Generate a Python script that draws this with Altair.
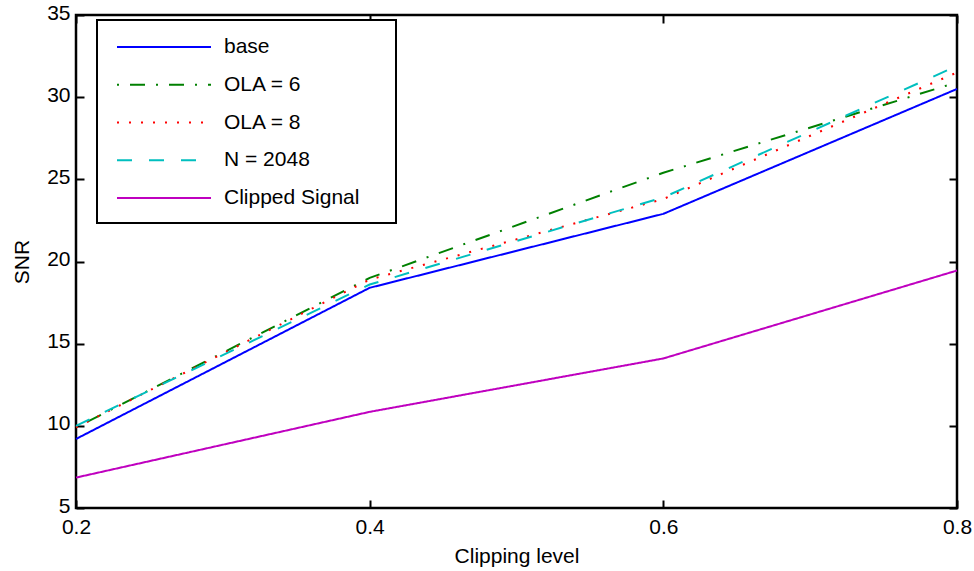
import altair as alt
import pandas as pd

# Clipping levels on the x axis and SNR (dB) per processing variant
clip_levels = [0.2, 0.4, 0.6, 0.8]
series_names = ["base", "OLA = 6", "OLA = 8", "N = 2048", "Clipped Signal"]
snr_base = [9.2, 18.4, 22.9, 30.5]
snr_ola6 = [9.9, 19.0, 25.4, 30.9]
snr_ola8 = [9.9, 18.9, 23.8, 31.5]
snr_n2048 = [10.0, 18.6, 23.9, 31.9]
snr_clipped = [6.85, 10.85, 14.1, 19.45]

line_colors = ["#0000ff", "#008000", "#ff0000", "#00bfbf", "#bf00bf"]
line_dashes = [[1, 0], [2, 11, 15, 11], [2, 10], [15, 17], [1, 0]]

x_ticks = [0.2, 0.4, 0.6, 0.8]
y_ticks = [5, 10, 15, 20, 25, 30, 35]

rows = []
for name, values in zip(series_names, [snr_base, snr_ola6, snr_ola8, snr_n2048, snr_clipped]):
    for lvl, v in zip(clip_levels, values):
        rows.append({"series": name, "clip": lvl, "snr": v})
df = pd.DataFrame(rows)

FONT = "Liberation Sans"
FS = 21
TICK = 8

x_scale = alt.Scale(domain=[0.2, 0.8], nice=False, zero=False)
y_scale = alt.Scale(domain=[5, 35], nice=False, zero=False)

legend_style = alt.Legend(title=None, orient="none", legendX=77, legendY=21)

lines = alt.Chart(df).mark_line(strokeWidth=2).encode(
    x=alt.X("clip:Q", scale=x_scale, title="Clipping level",
            axis=alt.Axis(orient="bottom", values=x_ticks, format=".1f",
                          offset=-TICK, tickSize=TICK, labelPadding=8,
                          labelFlush=False, titlePadding=8)),
    y=alt.Y("snr:Q", scale=y_scale, title="SNR",
            axis=alt.Axis(orient="left", values=y_ticks,
                          offset=-TICK, tickSize=TICK, labelPadding=6,
                          labelOffset=-2, labelFlush=False, titlePadding=14)),
    color=alt.Color("series:N",
                    scale=alt.Scale(domain=series_names, range=line_colors),
                    legend=legend_style),
    strokeDash=alt.StrokeDash("series:N",
                              scale=alt.Scale(domain=series_names, range=line_dashes),
                              legend=legend_style),
    order=alt.Order("clip:Q"),
)

# Mirrored tick marks on the top and right edges of the box
mirror = alt.Chart(df).mark_point(opacity=0).encode(
    x=alt.X("clip:Q", scale=x_scale, title=None,
            axis=alt.Axis(orient="top", values=x_ticks, labels=False,
                          offset=-TICK, tickSize=TICK)),
    y=alt.Y("snr:Q", scale=y_scale, title=None,
            axis=alt.Axis(orient="right", values=y_ticks, labels=False,
                          offset=-TICK, tickSize=TICK)),
)

# White framed panel behind the legend entries
legend_box = alt.Chart(pd.DataFrame({"k": [0]})).mark_rect(
    fill="white", stroke="black", strokeWidth=2
).encode(
    x=alt.value(21), x2=alt.value(320), y=alt.value(5), y2=alt.value(208)
)

chart = alt.layer(lines, legend_box, mirror).resolve_axis(
    x="independent", y="independent"
).properties(
    width=881,
    height=493,
    autosize=alt.AutoSizeParams(type="none"),
    padding={"left": 76, "top": 15, "right": 17, "bottom": 63},
    background="white",
).configure_view(
    stroke="black", strokeWidth=2.5
).configure_axis(
    domain=False, grid=False,
    tickColor="black", tickWidth=2,
    labelFont=FONT, labelFontSize=FS, labelColor="black",
    titleFont=FONT, titleFontSize=FS, titleColor="black",
    titleFontWeight="normal",
).configure_legend(
    strokeColor="transparent", fillColor="transparent",
    padding=0, symbolType="M-4.7,0H4.7", symbolSize=400, symbolStrokeWidth=2,
    symbolFillColor="transparent",
    labelFont=FONT, labelFontSize=FS, labelColor="black", labelOffset=49,
    rowPadding=16.75,
)

chart.save("out.html", embed_options={"renderer": "svg", "actions": False})
